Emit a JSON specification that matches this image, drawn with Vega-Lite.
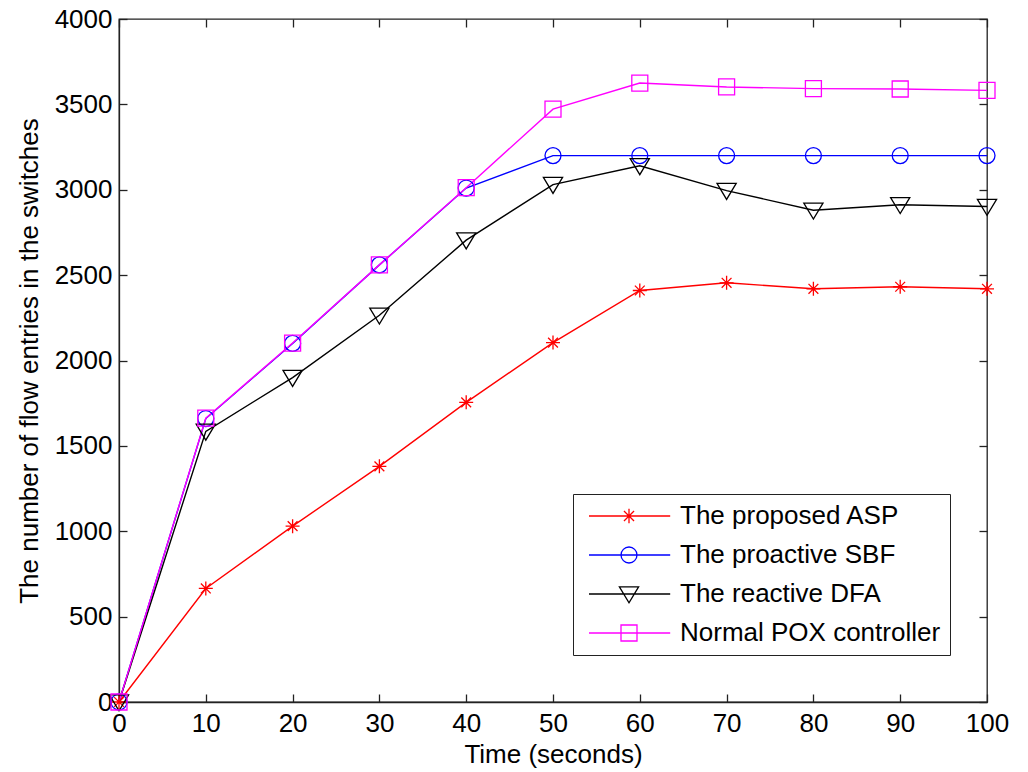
{
  "$schema": "https://vega.github.io/schema/vega-lite/v6.json",
  "width": 868,
  "height": 683,
  "autosize": {"type": "none"},
  "padding": {"left": 119, "top": 19, "right": 41, "bottom": 70},
  "background": "white",
  "config": {
    "font": "Liberation Sans",
    "view": {"stroke": "#222222", "strokeWidth": 1.3},
    "axis": {
      "grid": false,
      "domainColor": "#222222",
      "domainWidth": 1.3,
      "tickColor": "#222222",
      "tickWidth": 1.3,
      "tickSize": -8,
      "labelFlush": false,
      "labelFont": "Liberation Sans",
      "labelFontSize": 26,
      "labelColor": "black",
      "titleFont": "Liberation Sans",
      "titleFontSize": 26,
      "titleFontWeight": "normal",
      "titleColor": "black"
    },
    "legend": {
      "orient": "none",
      "legendX": 454,
      "legendY": 475,
      "strokeColor": "#222222",
      "fillColor": "white",
      "padding": 9,
      "labelFont": "Liberation Sans",
      "labelFontSize": 26,
      "labelColor": "black",
      "labelLimit": 0,
      "symbolSize": 256,
      "symbolStrokeWidth": 1.3,
      "symbolOpacity": 1,
      "labelOffset": 72,
      "rowPadding": 13
    }
  },
  "data": {
    "values": [
      {"t": 0, "series": "The proposed ASP", "v": 0},
      {"t": 10, "series": "The proposed ASP", "v": 665},
      {"t": 20, "series": "The proposed ASP", "v": 1030},
      {"t": 30, "series": "The proposed ASP", "v": 1380},
      {"t": 40, "series": "The proposed ASP", "v": 1755},
      {"t": 50, "series": "The proposed ASP", "v": 2105},
      {"t": 60, "series": "The proposed ASP", "v": 2410},
      {"t": 70, "series": "The proposed ASP", "v": 2455},
      {"t": 80, "series": "The proposed ASP", "v": 2420},
      {"t": 90, "series": "The proposed ASP", "v": 2432},
      {"t": 100, "series": "The proposed ASP", "v": 2420},
      {"t": 0, "series": "The proactive SBF", "v": 0},
      {"t": 10, "series": "The proactive SBF", "v": 1660},
      {"t": 20, "series": "The proactive SBF", "v": 2100},
      {"t": 30, "series": "The proactive SBF", "v": 2560},
      {"t": 40, "series": "The proactive SBF", "v": 3010},
      {"t": 50, "series": "The proactive SBF", "v": 3200},
      {"t": 60, "series": "The proactive SBF", "v": 3200},
      {"t": 70, "series": "The proactive SBF", "v": 3200},
      {"t": 80, "series": "The proactive SBF", "v": 3200},
      {"t": 90, "series": "The proactive SBF", "v": 3200},
      {"t": 100, "series": "The proactive SBF", "v": 3200},
      {"t": 0, "series": "The reactive DFA", "v": 0},
      {"t": 10, "series": "The reactive DFA", "v": 1585},
      {"t": 20, "series": "The reactive DFA", "v": 1900},
      {"t": 30, "series": "The reactive DFA", "v": 2265},
      {"t": 40, "series": "The reactive DFA", "v": 2705},
      {"t": 50, "series": "The reactive DFA", "v": 3030},
      {"t": 60, "series": "The reactive DFA", "v": 3140},
      {"t": 70, "series": "The reactive DFA", "v": 2995},
      {"t": 80, "series": "The reactive DFA", "v": 2880},
      {"t": 90, "series": "The reactive DFA", "v": 2912},
      {"t": 100, "series": "The reactive DFA", "v": 2902},
      {"t": 0, "series": "Normal POX controller", "v": 0},
      {"t": 10, "series": "Normal POX controller", "v": 1662},
      {"t": 20, "series": "Normal POX controller", "v": 2102},
      {"t": 30, "series": "Normal POX controller", "v": 2560},
      {"t": 40, "series": "Normal POX controller", "v": 3012},
      {"t": 50, "series": "Normal POX controller", "v": 3472},
      {"t": 60, "series": "Normal POX controller", "v": 3625},
      {"t": 70, "series": "Normal POX controller", "v": 3602},
      {"t": 80, "series": "Normal POX controller", "v": 3592},
      {"t": 90, "series": "Normal POX controller", "v": 3590},
      {"t": 100, "series": "Normal POX controller", "v": 3582}
    ]
  },
  "resolve": {"axis": {"x": "independent", "y": "independent"}},
  "layer": [
    {
      "mark": {"type": "point", "filled": false, "strokeWidth": 1.3, "size": 256, "opacity": 0},
      "encoding": {
        "x": {"field": "t", "type": "quantitative",
              "scale": {"domain": [0, 100], "nice": false, "zero": false},
              "axis": {"orient": "bottom", "values": [0,10,20,30,40,50,60,70,80,90,100], "format": "d", "labelPadding": 16, "title": "Time (seconds)", "titlePadding": 5}},
        "y": {"field": "v", "type": "quantitative",
              "scale": {"domain": [0, 4000], "nice": false},
              "axis": {"orient": "left", "values": [0,500,1000,1500,2000,2500,3000,3500,4000], "format": "d", "labelPadding": 15, "title": "The number of flow entries in the switches", "titlePadding": 12}},
        "color": {"field": "series", "type": "nominal",
                  "scale": {"domain": ["The proposed ASP", "The proactive SBF", "The reactive DFA", "Normal POX controller"],
                            "range": ["#ff0000", "#0000ff", "#000000", "#ff00ff"]},
                  "legend": {"title": null, "symbolOpacity": 1}},
        "shape": {"field": "series", "type": "nominal",
                  "scale": {"domain": ["The proposed ASP", "The proactive SBF", "The reactive DFA", "Normal POX controller"],
                            "range": [
                              "M-0.75,0L9.4,0M4.25,-0.9L4.25,0.9M3.62,-0.63L4.88,0.63M3.62,0.63L4.88,-0.63",
                              "M-0.75,0L9.4,0M3.25,0A1,1 0 1,1 5.25,0A1,1 0 1,1 3.25,0Z",
                              "M-0.75,0L9.4,0M3.05,-0.9L5.45,-0.9L4.25,1.1Z",
                              "M-0.75,0L9.4,0M3.25,-1L5.25,-1L5.25,1L3.25,1Z"
                            ]},
                  "legend": {"title": null, "symbolOpacity": 1}}
      }
    },
    {
      "mark": {"type": "line", "strokeWidth": 1.4},
      "encoding": {
        "x": {"field": "t", "type": "quantitative",
              "axis": {"orient": "top", "values": [0,10,20,30,40,50,60,70,80,90,100], "labels": false, "title": null, "domain": false}},
        "y": {"field": "v", "type": "quantitative",
              "axis": {"orient": "right", "values": [0,500,1000,1500,2000,2500,3000,3500,4000], "labels": false, "title": null, "domain": false}},
        "stroke": {"field": "series", "type": "nominal",
                   "scale": {"domain": ["The proposed ASP", "The proactive SBF", "The reactive DFA", "Normal POX controller"],
                             "range": ["#ff0000", "#0000ff", "#000000", "#ff00ff"]},
                   "legend": null}
      }
    },
    {
      "transform": [{"filter": "datum.series == 'The proposed ASP'"}],
      "mark": {"type": "point", "filled": false, "stroke": "#ff0000", "strokeWidth": 1.3, "size": 196, "opacity": 1,
               "shape": "M0,-1L0,1M-1,0L1,0M-0.7,-0.7L0.7,0.7M-0.7,0.7L0.7,-0.7"},
      "encoding": {
        "x": {"field": "t", "type": "quantitative", "axis": null},
        "y": {"field": "v", "type": "quantitative", "axis": null}
      }
    },
    {
      "transform": [{"filter": "datum.series == 'The proactive SBF'"}],
      "mark": {"type": "point", "filled": false, "stroke": "#0000ff", "strokeWidth": 1.3, "size": 256, "opacity": 1, "shape": "circle"},
      "encoding": {
        "x": {"field": "t", "type": "quantitative", "axis": null},
        "y": {"field": "v", "type": "quantitative", "axis": null}
      }
    },
    {
      "transform": [{"filter": "datum.series == 'The reactive DFA'"}],
      "mark": {"type": "point", "filled": false, "stroke": "#000000", "strokeWidth": 1.3, "size": 256, "opacity": 1,
               "shape": "M-1.2,-0.9L1.2,-0.9L0,1.1Z"},
      "encoding": {
        "x": {"field": "t", "type": "quantitative", "axis": null},
        "y": {"field": "v", "type": "quantitative", "axis": null}
      }
    },
    {
      "transform": [{"filter": "datum.series == 'Normal POX controller'"}],
      "mark": {"type": "point", "filled": false, "stroke": "#ff00ff", "strokeWidth": 1.3, "size": 256, "opacity": 1, "shape": "square"},
      "encoding": {
        "x": {"field": "t", "type": "quantitative", "axis": null},
        "y": {"field": "v", "type": "quantitative", "axis": null}
      }
    }
  ]
}
